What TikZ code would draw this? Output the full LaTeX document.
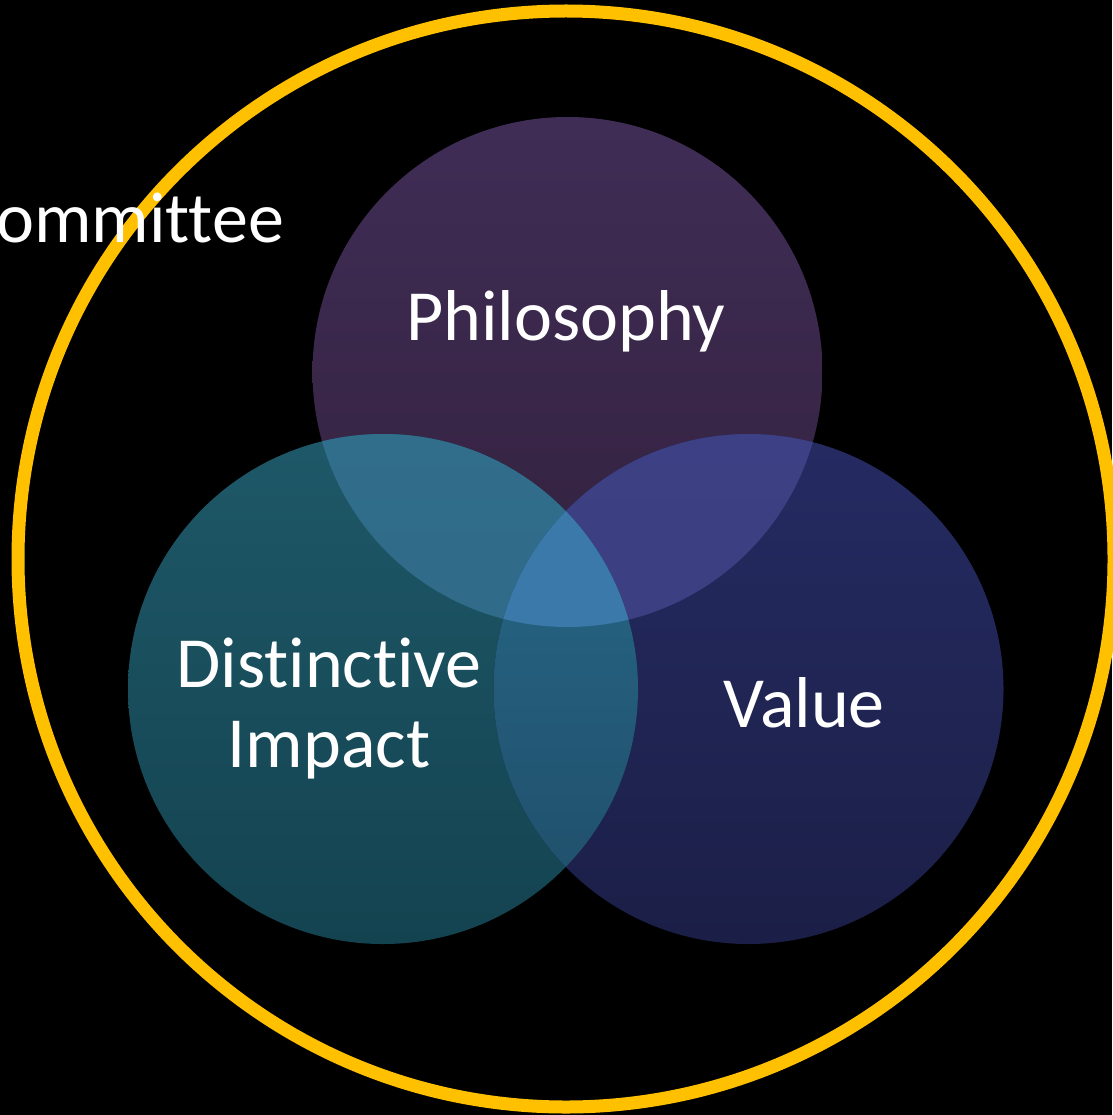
\documentclass[tikz,border=0pt]{standalone}
\usepackage{fontspec}
\setmainfont{Carlito}[Ligatures={NoCommon}]
\definecolor{ringc}{HTML}{FFC000}
\definecolor{phtop}{HTML}{402D56}
\definecolor{phbot}{HTML}{33213E}
\definecolor{ditop}{HTML}{1E5868}
\definecolor{dibot}{HTML}{144350}
\definecolor{vatop}{HTML}{252B62}
\definecolor{vabot}{HTML}{1B1F47}
\definecolor{pdtop}{HTML}{316E8C}
\definecolor{pdbot}{HTML}{2D6682}
\definecolor{pvtop}{HTML}{3D4084}
\definecolor{pvbot}{HTML}{3A3C7B}
\definecolor{dvtop}{HTML}{286A8B}
\definecolor{dvbot}{HTML}{1F4D68}
\definecolor{ctr}{HTML}{3A79A9}
\tikzset{
  lbl/.style={text=white, font=\fontsize{72}{80}\selectfont, inner sep=0pt, align=center},
  ringline/.style={draw=ringc, line width=13pt}
}
\begin{document}
\begin{tikzpicture}[x=1pt,y=-1pt]
\fill[black] (0,0) rectangle (1112,1115);
\useasboundingbox (0,0) rectangle (1112,1115);
\coordinate (O) at (566,559);
\coordinate (P) at (567.5,372);
\coordinate (D) at (383,689);
\coordinate (V) at (748.5,689);
\draw[ringline] (O) circle[radius=548pt];
\shade[top color=phtop, bottom color=phbot] (P) circle[radius=255pt];
\shade[top color=ditop, bottom color=dibot] (D) circle[radius=255pt];
\shade[top color=vatop, bottom color=vabot] (V) circle[radius=255pt];
\begin{scope}
  \clip (P) circle[radius=255pt];
  \shade[top color=pdtop, bottom color=pdbot] (D) circle[radius=255pt];
  \shade[top color=pvtop, bottom color=pvbot] (V) circle[radius=255pt];
\end{scope}
\begin{scope}
  \clip (D) circle[radius=255pt];
  \shade[top color=dvtop, bottom color=dvbot] (V) circle[radius=255pt];
  \clip (V) circle[radius=255pt];
  \fill[ctr] (P) circle[radius=255pt];
\end{scope}
\node[lbl, anchor=base east] (comm) at (284,242) {ommittee};
\node[lbl, anchor=base] (phil) at (566,340) {Philosophy};
\node[lbl, anchor=base] (dist) at (329,687) {Distinctive};
\node[lbl, anchor=base] (imp) at (329,767) {Impact};
\node[lbl, anchor=base] (val) at (804,727) {Value};
\end{tikzpicture}
\end{document}
